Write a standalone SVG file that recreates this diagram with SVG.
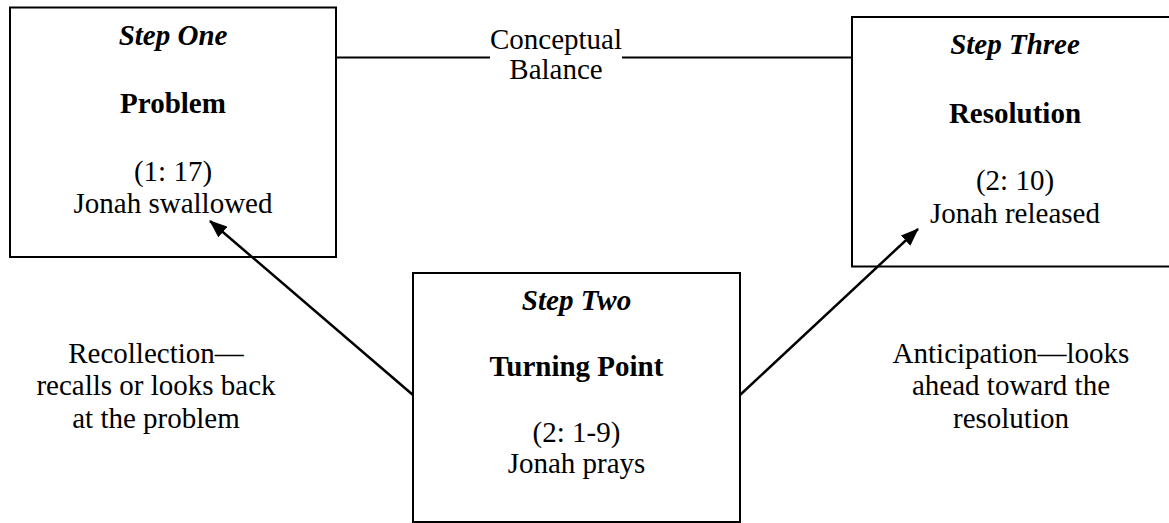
<svg xmlns="http://www.w3.org/2000/svg" width="1169" height="523" viewBox="0 0 1169 523" font-family="'Liberation Serif', Tinos, 'Times New Roman', serif">
<style>
text{font-family:"Liberation Serif",Tinos,"Times New Roman",serif;font-size:29px;fill:#000;text-anchor:middle}
.bi{font-weight:bold;font-style:italic}
.b{font-weight:bold}
.box{fill:none;stroke:#000;stroke-width:2}
.ln{stroke:#000;stroke-width:2;fill:none}
.ar{stroke:#000;stroke-width:2.5;fill:none}
</style>
<defs>
<marker id="ah" markerUnits="userSpaceOnUse" markerWidth="18" markerHeight="14" viewBox="0 0 18 14" refX="17" refY="7" orient="auto">
<path d="M0,0 L18,7 L0,14 Z" fill="#000"/>
</marker>
</defs>
<rect width="1169" height="523" fill="#fff"/>
<g id="connectors">
<line class="ln" x1="336" y1="57.5" x2="490" y2="57.5"/>
<line class="ln" x1="622" y1="57.5" x2="852" y2="57.5"/>
<line class="ar" x1="413" y1="395" x2="210" y2="221" marker-end="url(#ah)"/>
<line class="ar" x1="740" y1="395" x2="918" y2="229" marker-end="url(#ah)"/>
<text x="556" y="49">Conceptual</text>
<text x="556" y="79">Balance</text>
<text x="156" y="363">Recollection—</text>
<text x="156" y="395">recalls or looks back</text>
<text x="156" y="428">at the problem</text>
<text x="1011" y="363">Anticipation—looks</text>
<text x="1011" y="395">ahead toward the</text>
<text x="1011" y="428">resolution</text>
</g>
<g id="step-one">
<rect class="box" x="10" y="7.5" width="326" height="249.5"/>
<text class="bi" x="173" y="45">Step One</text>
<text class="b" x="173" y="112.5">Problem</text>
<text x="173" y="180.5">(1: 17)</text>
<text x="173" y="213">Jonah swallowed</text>
</g>
<g id="step-three">
<rect class="box" x="852" y="17" width="326" height="249.5"/>
<text class="bi" x="1015" y="54">Step Three</text>
<text class="b" x="1015" y="122.5">Resolution</text>
<text x="1015" y="190">(2: 10)</text>
<text x="1015" y="222.5">Jonah released</text>
</g>
<g id="step-two">
<rect class="box" x="413" y="273" width="327" height="249"/>
<text class="bi" x="576.5" y="310">Step Two</text>
<text class="b" x="576.5" y="376">Turning Point</text>
<text x="576.5" y="441.5">(2: 1-9)</text>
<text x="576.5" y="473">Jonah prays</text>
</g>
</svg>
